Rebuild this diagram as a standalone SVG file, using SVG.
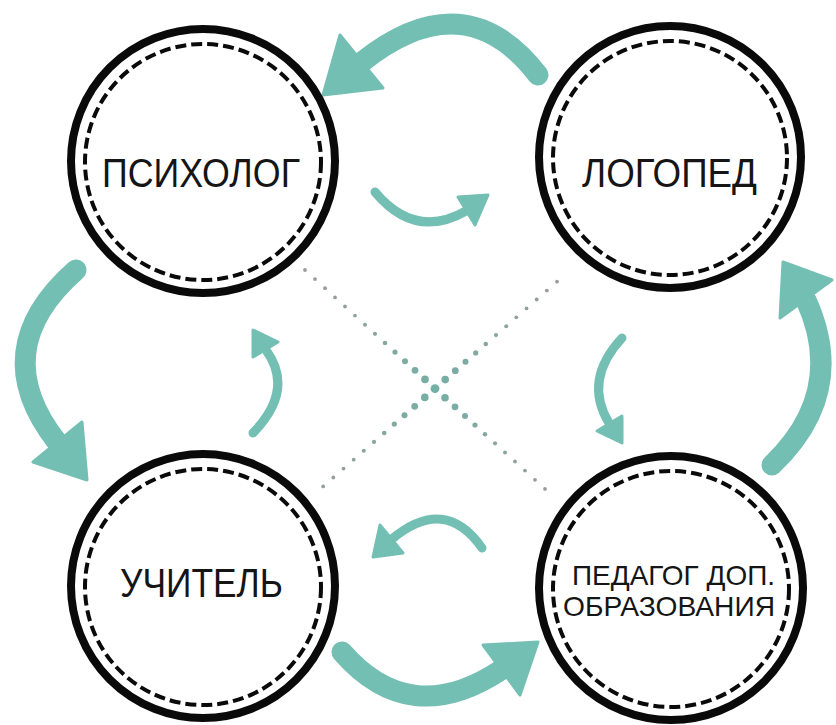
<svg xmlns="http://www.w3.org/2000/svg" width="836" height="725" viewBox="0 0 836 725">
<defs>
<style>
.ring{fill:#fff;stroke:#0a0a0a;stroke-width:8}
.dash{fill:none;stroke:#0a0a0a;stroke-width:4;stroke-dasharray:11 5}
.lbl{font-family:"Liberation Sans",Arial,sans-serif;fill:#151515;text-anchor:middle}
.arr{fill:none;stroke:#73bfb3;stroke-linecap:round}
.big{stroke-width:21}
.small{stroke-width:9}
.head{fill:#73bfb3;stroke:#73bfb3;stroke-width:3;stroke-linejoin:round}
.dot{fill:url(#dg)}
</style>
<radialGradient id="dg" gradientUnits="userSpaceOnUse" cx="435" cy="388" r="150">
<stop offset="0" stop-color="#72b0a5"/>
<stop offset="0.45" stop-color="#86a7a0"/>
<stop offset="1" stop-color="#989c9b"/>
</radialGradient>
</defs>
<rect width="836" height="725" fill="#fff"/>

<g id="dotted-lines">
<circle class="dot" cx="305" cy="270" r="1.9"/><circle class="dot" cx="315" cy="279.1" r="1.9"/><circle class="dot" cx="325" cy="288.2" r="1.9"/><circle class="dot" cx="335" cy="297.4" r="1.9"/><circle class="dot" cx="345" cy="306.5" r="1.9"/><circle class="dot" cx="355" cy="315.6" r="1.9"/><circle class="dot" cx="365" cy="324.7" r="2"/><circle class="dot" cx="375" cy="333.8" r="2.1"/><circle class="dot" cx="385" cy="343" r="2.3"/><circle class="dot" cx="395" cy="352.1" r="2.6"/><circle class="dot" cx="405" cy="361.2" r="3"/><circle class="dot" cx="415" cy="370.3" r="3.4"/><circle class="dot" cx="425" cy="379.4" r="3.8"/><circle class="dot" cx="435" cy="388.6" r="4.4"/><circle class="dot" cx="445" cy="397.7" r="3.8"/><circle class="dot" cx="455" cy="406.8" r="3.4"/><circle class="dot" cx="465" cy="415.9" r="3"/><circle class="dot" cx="475" cy="425" r="2.6"/><circle class="dot" cx="485" cy="434.2" r="2.3"/><circle class="dot" cx="495" cy="443.3" r="2.1"/><circle class="dot" cx="505" cy="452.4" r="2"/><circle class="dot" cx="515" cy="461.5" r="1.9"/><circle class="dot" cx="525" cy="470.6" r="1.9"/><circle class="dot" cx="535" cy="479.8" r="1.9"/><circle class="dot" cx="545" cy="488.9" r="1.9"/>
<circle class="dot" cx="557" cy="281.7" r="1.9"/><circle class="dot" cx="546.8" cy="290.6" r="1.9"/><circle class="dot" cx="536.7" cy="299.5" r="1.9"/><circle class="dot" cx="526.5" cy="308.4" r="1.9"/><circle class="dot" cx="516.3" cy="317.3" r="1.9"/><circle class="dot" cx="506.2" cy="326.2" r="2"/><circle class="dot" cx="496" cy="335.1" r="2.1"/><circle class="dot" cx="485.8" cy="344" r="2.3"/><circle class="dot" cx="475.7" cy="352.9" r="2.6"/><circle class="dot" cx="465.5" cy="361.8" r="3"/><circle class="dot" cx="455.3" cy="370.7" r="3.4"/><circle class="dot" cx="445.2" cy="379.6" r="3.8"/><circle class="dot" cx="424.8" cy="397.4" r="3.8"/><circle class="dot" cx="414.7" cy="406.3" r="3.4"/><circle class="dot" cx="404.5" cy="415.2" r="3"/><circle class="dot" cx="394.3" cy="424.1" r="2.6"/><circle class="dot" cx="384.2" cy="433" r="2.3"/><circle class="dot" cx="374" cy="441.9" r="2.1"/><circle class="dot" cx="363.8" cy="450.8" r="2"/><circle class="dot" cx="353.7" cy="459.7" r="1.9"/><circle class="dot" cx="343.5" cy="468.6" r="1.9"/><circle class="dot" cx="333.3" cy="477.5" r="1.9"/><circle class="dot" cx="323.2" cy="486.4" r="1.9"/>
</g>

<g id="connectors">
<path class="arr big" d="M538,75 Q465,-20 362,62"/>
<polygon class="head" points="340,35 383,88 323,95"/>
<path class="arr big" d="M76,270 Q-15,350 57,442"/>
<polygon class="head" points="33,462 82,422 87,480"/>
<path class="arr big" d="M772,465 Q848,392 806,300"/>
<polygon class="head" points="780,318 832,280 783,262"/>
<path class="arr big" d="M342,652 Q410,730 501,670"/>
<polygon class="head" points="483,645 520,695 538,642"/>
<path class="arr small" d="M375,192 Q415,240 466,211"/>
<polygon class="head" points="458,197 475,225 488,195"/>
<path class="arr small" d="M482,548 Q445,495 392,539"/>
<polygon class="head" points="380,525 403,553 373,557"/>
<path class="arr small" d="M253,433 Q295,390 266,350"/>
<polygon class="head" points="253,357 278,342 253,330"/>
<path class="arr small" d="M622,338 Q583,380 609,423"/>
<polygon class="head" points="622,416 597,431 622,443"/>
</g>

<g id="psiholog">
<circle class="ring" cx="203" cy="161" r="132"/>
<circle class="dash" cx="203" cy="162" r="118"/>
<text class="lbl" x="201" y="187" font-size="41" textLength="198" lengthAdjust="spacingAndGlyphs">ПСИХОЛОГ</text>
</g>
<g id="logoped">
<circle class="ring" cx="670" cy="157" r="131"/>
<circle class="dash" cx="670" cy="158" r="117"/>
<text class="lbl" x="669.5" y="187" font-size="41" textLength="175" lengthAdjust="spacingAndGlyphs">ЛОГОПЕД</text>
</g>
<g id="uchitel">
<circle class="ring" cx="203" cy="586" r="132"/>
<circle class="dash" cx="203" cy="587" r="118"/>
<text class="lbl" x="201.5" y="597" font-size="41" textLength="163" lengthAdjust="spacingAndGlyphs">УЧИТЕЛЬ</text>
</g>
<g id="pedagog">
<circle class="ring" cx="671" cy="588" r="132"/>
<circle class="dash" cx="671" cy="589" r="118"/>
<text class="lbl" x="673.5" y="585" font-size="28" textLength="203" lengthAdjust="spacingAndGlyphs">ПЕДАГОГ ДОП.</text>
<text class="lbl" x="669" y="616" font-size="28" textLength="212" lengthAdjust="spacingAndGlyphs">ОБРАЗОВАНИЯ</text>
</g>
</svg>
